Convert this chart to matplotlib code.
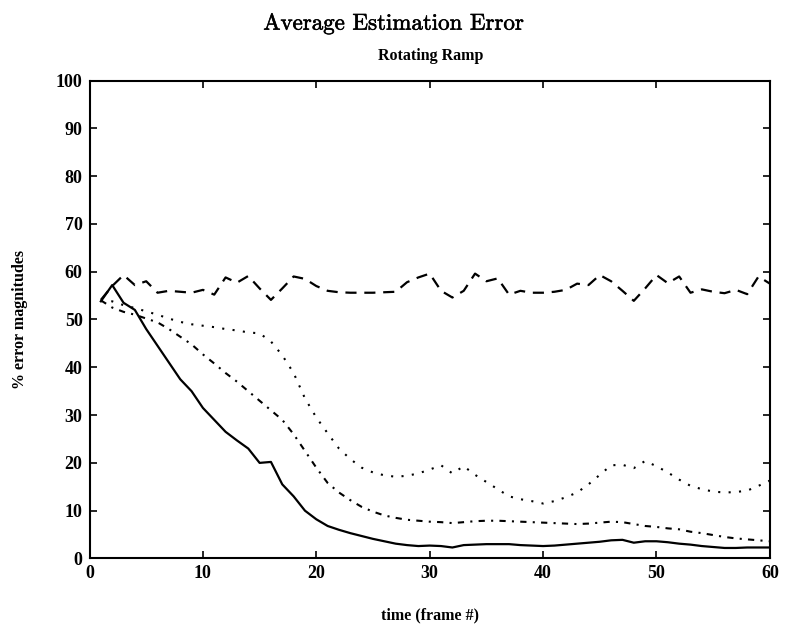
import numpy as np
import matplotlib
matplotlib.use("Agg")
import matplotlib.pyplot as plt
import matplotlib.patheffects as pe

# frame numbers
frames = list(range(1, 61))

# four estimators, % error magnitude per frame
solid = [53.8, 57.2, 53.5, 52.0, 48.0, 44.5, 41.0, 37.5, 35.0, 31.5,
         29.0, 26.5, 24.7, 23.0, 20.0, 20.2, 15.5, 13.0, 10.0, 8.2,
         6.8, 6.0, 5.3, 4.7, 4.1, 3.6, 3.1, 2.8, 2.6, 2.7,
         2.6, 2.3, 2.8, 2.9, 3.0, 3.0, 3.0, 2.8, 2.7, 2.6,
         2.7, 2.9, 3.1, 3.3, 3.5, 3.8, 3.9, 3.3, 3.6, 3.6,
         3.4, 3.1, 2.9, 2.6, 2.4, 2.2, 2.2, 2.3, 2.3, 2.3]

dashed = [54.1, 57.0, 59.3, 57.2, 58.0, 55.6, 56.0, 55.8, 55.6, 56.2,
          55.2, 58.8, 57.7, 59.1, 56.5, 54.1, 56.5, 59.0, 58.5, 57.0,
          56.0, 55.7, 55.6, 55.6, 55.6, 55.7, 55.8, 57.8, 58.8, 59.6,
          56.0, 54.6, 56.0, 59.6, 58.0, 58.6, 55.2, 56.0, 55.6, 55.6,
          55.8, 56.2, 57.5, 57.2, 59.3, 58.0, 56.0, 53.9, 56.5, 59.3,
          57.6, 59.0, 55.6, 56.3, 55.8, 55.5, 56.2, 55.3, 59.0, 57.5]

dotted = [54.0, 53.8, 53.0, 52.4, 51.7, 51.0, 50.2, 49.5, 49.0, 48.7,
          48.4, 48.0, 47.7, 47.3, 47.1, 45.4, 42.5, 38.8, 33.5, 29.5,
          26.2, 23.0, 20.8, 19.0, 18.0, 17.4, 17.1, 17.3, 17.8, 18.6,
          19.5, 17.8, 19.3, 17.5, 16.0, 14.5, 13.0, 12.4, 12.0, 11.5,
          12.0, 12.8, 13.8, 15.5, 17.5, 19.5, 19.6, 18.9, 20.4, 19.3,
          18.0, 16.5, 15.2, 14.5, 14.0, 13.8, 13.9, 14.2, 15.2, 16.3]

dashdot = [54.0, 52.5, 51.6, 51.0, 50.2, 49.4, 48.0, 46.4, 44.8, 42.7,
           40.8, 38.8, 37.0, 35.0, 33.0, 31.0, 29.0, 26.0, 22.5, 19.0,
           15.8, 13.8, 12.2, 10.8, 9.8, 9.0, 8.5, 8.1, 7.9, 7.7,
           7.6, 7.4, 7.6, 7.8, 7.9, 7.9, 7.8, 7.7, 7.6, 7.5,
           7.4, 7.3, 7.2, 7.3, 7.5, 7.7, 7.6, 7.2, 6.8, 6.6,
           6.3, 6.1, 5.6, 5.3, 4.9, 4.5, 4.2, 4.0, 3.8, 3.6]

xticks = [0, 10, 20, 30, 40, 50, 60]
yticks = [0, 10, 20, 30, 40, 50, 60, 70, 80, 90, 100]

serif = ["Liberation Serif", "DejaVu Serif"]

fig = plt.figure(figsize=(7.88, 6.28), dpi=100)
ax = fig.add_axes([0.1136, 0.1107, 0.8634, 0.7611])

ax.plot(frames, solid, color="black", lw=1.6, linestyle="-")
ax.plot(frames, dashed, color="black", lw=1.6, linestyle=(0, (5, 3.5)))
ax.plot(frames, dotted, color="black", lw=1.5, linestyle=(0, (1, 4)))
ax.plot(frames, dashdot, color="black", lw=1.5, linestyle=(0, (3, 3, 1, 3)))

ax.set_xlim(0, 60)
ax.set_ylim(0, 100)
ax.set_xticks(xticks)
ax.set_yticks(yticks)
ax.tick_params(direction="in", length=5, width=1.2, top=True, right=True,
               labelsize=13, pad=5)
for lab in ax.get_xticklabels() + ax.get_yticklabels():
    lab.set_family(serif)
    lab.set_fontweight("bold")
for sp in ax.spines.values():
    sp.set_linewidth(1.5)

ax.set_xlabel("time (frame #)", family=serif, fontweight="bold", fontsize=11.5, labelpad=18)
ax.set_ylabel("% error magnitudes", family=serif, fontweight="bold", fontsize=11.5, labelpad=20)

fig.text(0.499, 0.962, "Average Estimation Error", ha="center", va="center",
         family=["cmr10", "DejaVu Serif"], fontsize=16.5,
         path_effects=[pe.withStroke(linewidth=0.4, foreground="black")])
fig.text(0.546, 0.911, "Rotating Ramp", ha="center", va="center",
         family=serif, fontweight="bold", fontsize=11.5)

fig.savefig("out.png", dpi=100)
